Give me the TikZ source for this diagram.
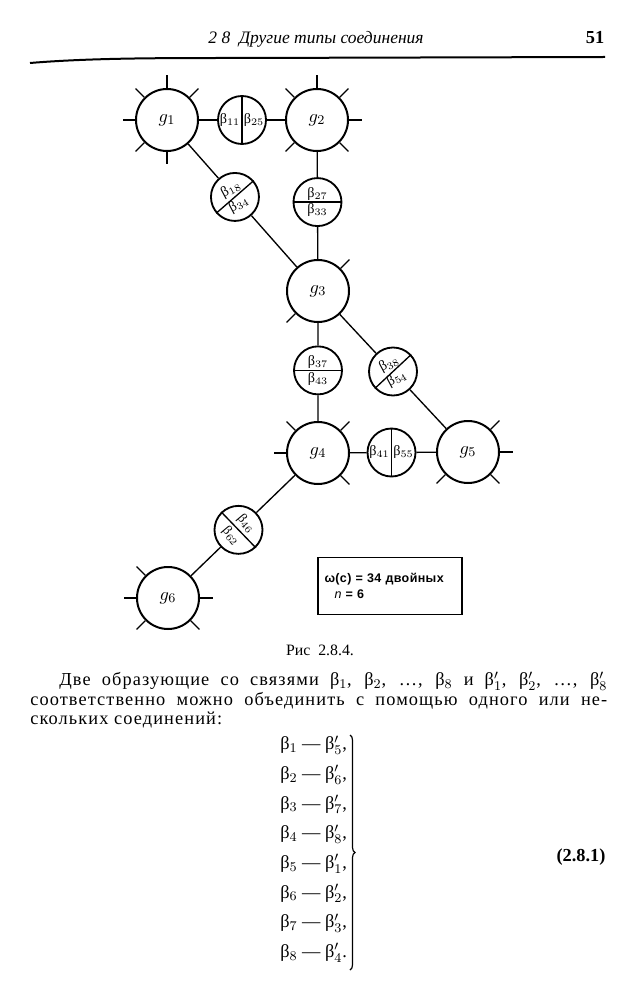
\documentclass[tikz,border=0pt]{standalone}
\usepackage{fontspec}
\setmainfont{Liberation Serif}
\newfontfamily\boxfont[LetterSpace=3]{Liberation Sans}
\newfontfamily\bodyfont[LetterSpace=6]{Liberation Serif}
\usetikzlibrary{positioning,calc,decorations.pathreplacing}
\tikzset{gen/.style={circle, draw, line width=1.2pt, minimum size=37.2pt, inner sep=0pt, font=\fontsize{11}{12}\selectfont}}
\tikzset{bond/.style={circle, draw, line width=1.1pt, minimum size=28.8pt, inner sep=0pt}}
\tikzset{lnk/.style={draw, line width=0.8pt}}
\tikzset{spk/.style={draw, line width=0.8pt}}
\tikzset{blab/.style={inner sep=0.9pt, font=\fontsize{8.5}{9}\selectfont}}
\tikzset{bodyline/.style={inner sep=0pt, font=\fontsize{11}{12}\bodyfont}}
\tikzset{eqn/.style={inner sep=0pt, font=\fontsize{11}{12}\selectfont}}
\newcommand{\bsub}[1]{β$_{#1}$}
\newcommand{\bpr}[1]{β$'_{#1}$}
\begin{document}
\begin{tikzpicture}[x=0.6pt, y=-0.6pt]
\useasboundingbox (0,0) rectangle (640,1000);
% running head
\node[font=\fontsize{10.5}{12}\selectfont\itshape] (head) at (316,39) {2 8\enspace Другие типы соединения};
\node[font=\fontsize{11}{12}\selectfont\bfseries] (page) at (595,38) {51};
\draw[line width=1.2pt] (30,63) .. controls (90,58) and (160,58) .. (240,58) -- (605,57);
% generators
\node[gen] (g1) at (167,120) {$g_1$};
\node[gen] (g2) at (317,120) {$g_2$};
\node[gen] (g3) at (318,291) {$g_3$};
\node[gen] (g4) at (318,453) {$g_4$};
\node[gen] (g5) at (468,452) {$g_5$};
\node[gen] (g6) at (168,598) {$g_6$};
% bonds
\node[bond] (b11) at ($(g1)!0.5!(g2)$) {};
\node[bond] (b18) at ($(g1)!0.45!(g3)$) {};
\node[bond] (b27) at ($(g2)!0.48!(g3)$) {};
\node[bond] (b37) at ($(g3)!0.49!(g4)$) {};
\node[bond] (b38) at ($(g3)!0.5!(g5)$) {};
\node[bond] (b41) at ($(g4)!0.49!(g5)$) {};
\node[bond] (b46) at ($(g4)!0.53!(g6)$) {};
%
\draw[lnk] (b11.north) -- (b11.south);
\draw[lnk] (b41.north) -- (b41.south);
\draw[lnk] (b27.west) -- (b27.east);
\draw[lnk] (b37.west) -- (b37.east);
\draw[lnk] (b18.41) -- (b18.221);
\draw[lnk] (b38.43) -- (b38.223);
\draw[lnk] (b46.134) -- (b46.314);
%
\node[blab, anchor=east] at (b11.center) {\bsub{11}};
\node[blab, anchor=west] at (b11.center) {\bsub{25}};
\node[blab, anchor=east] at (b41.center) {\bsub{41}};
\node[blab, anchor=west] at (b41.center) {\bsub{55}};
\node[blab, anchor=south] at (b27.center) {\bsub{27}};
\node[blab, anchor=north] at (b27.center) {\bsub{33}};
\node[blab, anchor=south] at (b37.center) {\bsub{37}};
\node[blab, anchor=north] at (b37.center) {\bsub{43}};
\node[blab, rotate=28, anchor=south] at (b18.center) {\bsub{18}};
\node[blab, rotate=28, anchor=north] at (b18.center) {\bsub{34}};
\node[blab, rotate=28, anchor=south] at (b38.center) {\bsub{38}};
\node[blab, rotate=28, anchor=north] at (b38.center) {\bsub{54}};
\node[blab, rotate=-50, anchor=south, inner sep=2pt, font=\fontsize{8}{9}\selectfont] at (b46.center) {\bsub{46}};
\node[blab, rotate=-50, anchor=north, inner sep=2pt, font=\fontsize{8}{9}\selectfont] at (b46.center) {\bsub{62}};
% links
\foreach \u/\v in {g1/b11, b11/g2, g1/b18, b18/g3, g2/b27, b27/g3, g3/b37, b37/g4,
  g3/b38, b38/g5, g4/b41, b41/g5, g4/b46, b46/g6}
  \draw[lnk] (\u) -- (\v);
% free valences
\foreach \n/\angs in {g1/{45,90,135,180,225,270}, g2/{0,45,90,135,225,315},
  g3/{45,225}, g4/{45,135,180,315}, g5/{0,45,225,315}, g6/{0,135,180,225,315}}
  \foreach \a in \angs
    \draw[spk] (\n.\a) -- +(\a:7.5pt);
% weight box
\node[draw, line width=0.8pt, inner xsep=3.9pt, inner ysep=0pt, text width=78.6pt,
  minimum height=34.2pt, align=left, font=\fontsize{7.5}{9.6}\boxfont\bfseries] (omega) at (390,586)
  {ω(с) = 34 двойных\\\hspace*{6pt}{\mdseries\itshape n} = 6};
% caption and text
\node[font=\fontsize{9.5}{11}\selectfont] (cap) at (320,650) {Рис\enspace 2.8.4.};
\node[bodyline, anchor=west] (p1) at (59,681) {\makebox[328.8pt][s]{Две образующие со связями \bsub{1}, \bsub{2}, \dots, \bsub{8} и \bpr{1}, \bpr{2}, \dots, \bpr{8}}};
\node[bodyline, anchor=west] (p2) at (30,701) {\makebox[346.2pt][s]{соответственно можно объединить с помощью одного или не-}};
\node[bodyline, anchor=west] (p3) at (30,720) {скольких соединений:};
% relations
\foreach \i/\j [count=\k] in {1/5,2/6,3/7,4/8,5/1,6/2,7/3,8/4}
  \node[eqn, anchor=west] (e\k) at (280,{745+29.7*(\k-1)}) {\bsub{\i} — \bpr{\j}\ifnum\k=8 .\else ,\fi};
\coordinate (bt) at (350,735);
\coordinate (bb) at (350,970);
\draw[decorate, decoration={brace, amplitude=3pt}, line width=0.7pt] (bt) -- (bb);
\node[font=\fontsize{11}{12}\selectfont\bfseries] (num) at (581,857) {(2.8.1)};
\end{tikzpicture}
\end{document}
